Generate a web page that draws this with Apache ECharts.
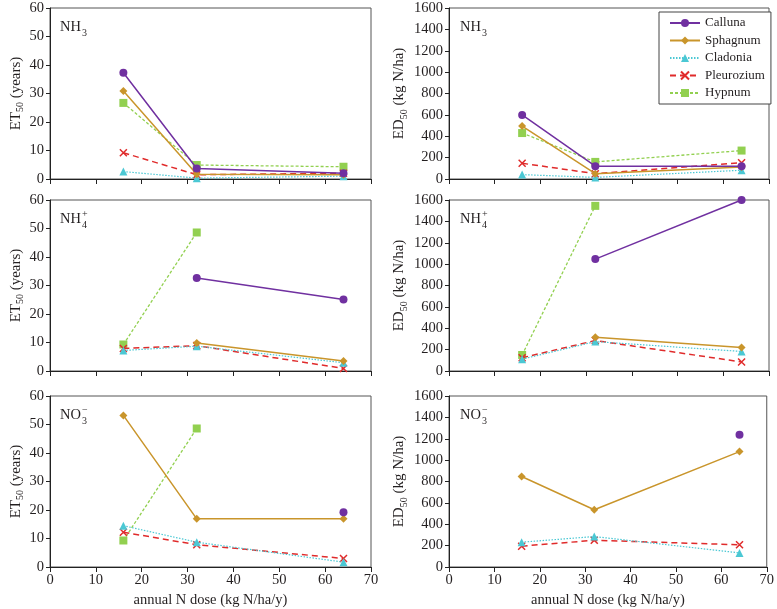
<!DOCTYPE html>
<html>
<head>
<meta charset="utf-8">
<script src="https://cdn.jsdelivr.net/npm/echarts@6/dist/echarts.min.js"></script>
<style>
  html, body { margin: 0; padding: 0; background: #fff; }
  #main { width: 777px; height: 609px; }
</style>
</head>
<body>
<div id="main"></div>
<script>
// N doses on x axis
var doses = [16, 32, 64];
var species = ['Calluna', 'Sphagnum', 'Cladonia', 'Pleurozium', 'Hypnum'];
var xTicks = [0, 10, 20, 30, 40, 50, 60, 70];

// ET50 (years), one row per species, null = no value
var etNH3 = [
    [37.3, 3.7, 2.0],
    [30.9, 1.7, 1.5],
    [2.6, 0.3, 1.0],
    [9.2, 1.5, 2.0],
    [26.7, 4.9, 4.3]
];
var etNH4 = [
    [null, 32.6, 25.1],
    [null, 9.8, 3.5],
    [7.2, 8.7, 2.9],
    [7.9, 8.9, 0.9],
    [9.3, 48.6, null]
];
var etNO3 = [
    [null, null, 19.2],
    [53.2, 16.9, 16.9],
    [14.5, 8.7, 1.7],
    [12.2, 7.8, 3.0],
    [9.3, 48.6, null]
];
// ED50 (kg N/ha)
var edNH3 = [
    [599, 120, 120],
    [495, 50, 112],
    [41, 15, 82],
    [147, 50, 152],
    [430, 160, 266]
];
var edNH4 = [
    [null, 1047, 1600],
    [null, 315, 220],
    [111, 275, 183],
    [124, 285, 85],
    [150, 1545, null]
];
var edNO3 = [
    [null, null, 1237],
    [847, 536, 1080],
    [232, 285, 132],
    [195, 250, 208],
    [null, null, null]
];

var myChart = echarts.init(document.getElementById('main'));

var FONT = '"Liberation Serif", "DejaVu Serif", serif';
var TXT = '#231f20';
var colors = ['#7030a0', '#c9952b', '#4bc8d4', '#e02b2b', '#92d050'];
var lineTypes = ['solid', 'solid', [1.5, 1.5], [6, 4], [3, 2]];
var lineWidths = [1.5, 1.5, 1.2, 1.5, 1.3];
var symbols = ['circle', 'diamond', 'triangle', 'path://M0,0L10,10M10,0L0,10', 'rect'];
var symbolSizes = [8, 8, 8, 7, 8];

// panels: [data, column, row]
var panels = [
    [etNH3, 0, 0], [edNH3, 1, 0],
    [etNH4, 0, 1], [edNH4, 1, 1],
    [etNO3, 0, 2], [edNO3, 1, 2]
];
var colLeft = [50, 449];
var colWidth = [321, 320];
var rowTop = [8, 200, 396];
var rowHeight = 171;

var grids = [], xAxes = [], yAxes = [], series = [];

panels.forEach(function (p, i) {
    var col = p[1], row = p[2];
    var isBottom = row === 2;
    grids.push({
        left: colLeft[col], top: rowTop[row],
        width: colWidth[col], height: rowHeight,
        show: true, borderColor: '#555', borderWidth: 1
    });
    xAxes.push({
        type: 'value', gridIndex: i, min: 0, max: 70, interval: 10,
        axisLine: { lineStyle: { color: '#222', width: 1 } },
        axisTick: { show: true, length: 5, lineStyle: { color: '#222' } },
        axisLabel: { show: isBottom, margin: 6, color: TXT, fontFamily: FONT, fontSize: 14.5,
            formatter: function (v) { return String(v); } },
        splitLine: { show: false },
        name: isBottom ? 'annual N dose (kg N/ha/y)' : '',
        nameLocation: 'middle', nameGap: 26,
        nameTextStyle: { color: TXT, fontFamily: FONT, fontSize: 14.5 }
    });
    yAxes.push({
        type: 'value', gridIndex: i, min: 0,
        max: col === 0 ? 60 : 1600,
        interval: col === 0 ? 10 : 200,
        axisLine: { show: true, lineStyle: { color: '#222', width: 1 } },
        axisTick: { show: true, length: 4, lineStyle: { color: '#222' } },
        axisLabel: { margin: 6, color: TXT, fontFamily: FONT, fontSize: 14.5,
            formatter: function (v) { return String(v); } },
        splitLine: { show: false },
        name: col === 0 ? 'ET{s|50} (years)' : 'ED{s|50} (kg N/ha)',
        nameLocation: 'middle', nameRotate: 90,
        nameGap: col === 0 ? 24 : 40,
        nameTextStyle: {
            color: TXT, fontFamily: FONT, fontSize: 15, lineHeight: 20,
            rich: { s: { fontSize: 10, lineHeight: 10, verticalAlign: 'bottom', fontFamily: FONT, color: TXT } }
        }
    });
    p[0].forEach(function (vals, k) {
        series.push({
            name: species[k], type: 'line',
            xAxisIndex: i, yAxisIndex: i,
            data: doses.map(function (d, j) { return [d, vals[j]]; }),
            connectNulls: false,
            clip: false,
            color: colors[k],
            symbol: symbols[k], symbolSize: symbolSizes[k],
            showSymbol: true,
            itemStyle: { color: colors[k], borderColor: colors[k], borderWidth: k === 3 ? 1.5 : 0 },
            lineStyle: { color: colors[k], type: lineTypes[k], width: lineWidths[k] },
            emphasis: { disabled: true },
            animation: false,
            z: 10 - k
        });
    });
});

// panel labels NH3 / NH4+ / NO3-
function chemLabel(x, y, main, sub, sup) {
    var kids = [{
        type: 'text', left: 0, top: 0,
        style: { text: main, font: '14.5px ' + FONT, fill: TXT }
    }, {
        type: 'text', x: 22, y: 8,
        style: { text: sub, font: '10px ' + FONT, fill: TXT }
    }];
    if (sup) {
        kids.push({
            type: 'text', x: 22, y: -3,
            style: { text: sup, font: '10px ' + FONT, fill: TXT }
        });
    }
    return { type: 'group', x: x, y: y, children: kids, z: 20 };
}
var graphics = [];
[[0, 'NH', '3', null], [1, 'NH', '4', '+'], [2, 'NO', '3', '\u2212']].forEach(function (r) {
    graphics.push(chemLabel(60, rowTop[r[0]] + 12, r[1], r[2], r[3]));
    graphics.push(chemLabel(460, rowTop[r[0]] + 12, r[1], r[2], r[3]));
});

var option = {
    backgroundColor: '#fff',
    animation: false,
    grid: grids,
    xAxis: xAxes,
    yAxis: yAxes,
    legend: {
        data: species,
        orient: 'vertical',
        left: 659, top: 12,
        padding: [4, 6, 4, 10],
        itemGap: 3.5,
        itemWidth: 30, itemHeight: 10,
        backgroundColor: '#fff',
        borderColor: '#444', borderWidth: 1,
        textStyle: { color: TXT, fontFamily: FONT, fontSize: 13, lineHeight: 14 },
        selectedMode: false
    },
    graphic: graphics,
    series: series
};
myChart.setOption(option);
</script>
</body>
</html>
